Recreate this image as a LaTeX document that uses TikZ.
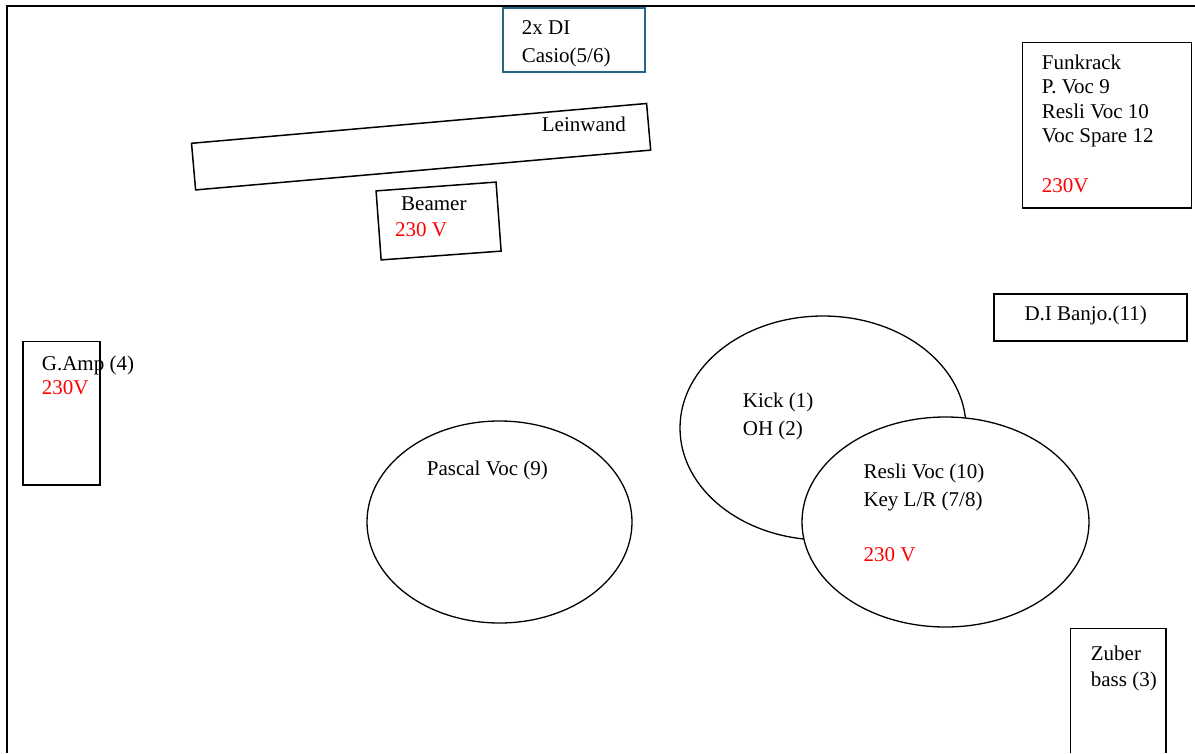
\documentclass[tikz,border=0pt]{standalone}
\usepackage{fontspec}
\setmainfont{Liberation Serif}
\usetikzlibrary{shapes.geometric}
\definecolor{diblue}{RGB}{35,103,133}
\definecolor{volt}{RGB}{255,0,0}
\newcommand{\planfont}{\fontsize{21}{24.4}\selectfont}
\tikzset{
  boxline/.style={draw=black, line width=1.5pt, inner sep=0pt, fill=none},
  ell/.style={ellipse, draw=black, line width=1.3pt, inner sep=0pt},
  txt/.style={anchor=base west, inner sep=0pt, font=\planfont, text=black},
  volttxt/.style={txt, text=volt}
}
\begin{document}
\begin{tikzpicture}[x=1pt,y=-1pt]
\useasboundingbox (0,0) rectangle (1195,753);
% frame
\coordinate (fbl) at (7,753);
\coordinate (ftl) at (7,6);
\coordinate (ftr) at (1195,6);
\draw[line width=2pt] (fbl) -- (ftl) -- (ftr);
% 2x DI
\node[boxline, draw=diblue, line width=2pt, minimum width=142pt, minimum height=64pt, anchor=north west] (di) at (502.3,6.5) {};
\node[txt] (di1) at (521.7,34) {2x DI};
\node[txt] (di2) at (521.7,62) {Casio(5/6)};
% Leinwand
\node[boxline, rotate=5, minimum width=456.8pt, minimum height=46.8pt] (lw) at (421.1,146.7) {};
\node[txt] (lwt) at (541.7,131.7) {Leinwand};
% Beamer
\node[boxline, rotate=4.2, minimum width=120.3pt, minimum height=69.2pt] (bm) at (438.6,221) {};
\node[txt] (bm1) at (401,210.7) {Beamer};
\node[volttxt] (bm2) at (395,236) {230 V};
% Funkrack
\node[boxline, minimum width=169pt, minimum height=165.6pt, anchor=north west] (fr) at (1021.7,41.7) {};
\node[txt] (fr1) at (1041.7,69.3) {Funkrack};
\node[txt] (fr2) at (1041.7,93.7) {P. Voc 9};
\node[txt] (fr3) at (1041.7,118.1) {Resli Voc 10};
\node[txt] (fr4) at (1041.7,142.5) {Voc Spare 12};
\node[volttxt] (fr5) at (1041.7,192.3) {230V};
% D.I Banjo
\node[boxline, minimum width=192.7pt, minimum height=46.7pt, anchor=north west] (bj) at (993.3,293.3) {};
\node[txt] (bjt) at (1024.3,320) {D.I Banjo.(11)};
% G.Amp
\node[boxline, minimum width=77pt, minimum height=143.3pt, anchor=north west] (ga) at (22.3,340.7) {};
\node[txt] (ga1) at (41.7,370) {G.Amp (4)};
\node[volttxt] (ga2) at (41.7,394) {230V};
% Pascal
\node[ell, minimum width=265pt, minimum height=202pt] (pv) at (499.5,522) {};
\node[txt] (pvt) at (426.7,475) {Pascal Voc (9)};
% Kick
\node[ell, minimum width=286pt, minimum height=224pt] (kick) at (823,428) {};
\node[txt] (k1) at (742.7,407.3) {Kick (1)};
\node[txt] (k2) at (742.7,435) {OH (2)};
% Resli
\node[ell, fill=white, minimum width=287pt, minimum height=210pt] (rv) at (945.5,522) {};
\node[txt] (r1) at (863.3,478.3) {Resli Voc (10)};
\node[txt] (r2) at (863.3,506) {Key L/R (7/8)};
\node[volttxt] (r3) at (863.3,561) {230 V};
% Zuber
\coordinate (zbl) at (1070.7,753);
\coordinate (ztl) at (1070.7,628.3);
\coordinate (ztr) at (1166,628.3);
\coordinate (zbr) at (1166,753);
\draw[line width=1.5pt] (zbl) -- (ztl) -- (ztr) -- (zbr);
\node[txt] (z1) at (1090.7,660) {Zuber};
\node[txt] (z2) at (1090.7,686) {bass (3)};
\end{tikzpicture}
\end{document}
